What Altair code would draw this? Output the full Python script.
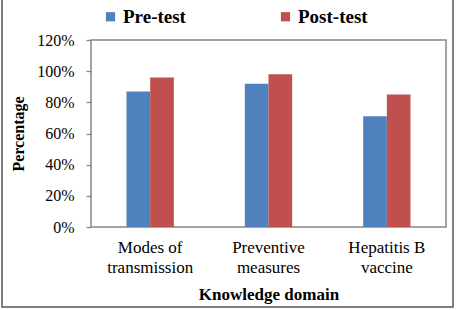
import altair as alt
import pandas as pd

categories = ["Modes of\ntransmission", "Preventive\nmeasures", "Hepatitis B\nvaccine"]
series = ["Pre-test", "Post-test"]
pre_test = [0.87, 0.92, 0.71]
post_test = [0.96, 0.98, 0.85]
colors = ["#4F81BD", "#C0504D"]
y_ticks = [0, 0.2, 0.4, 0.6, 0.8, 1.0, 1.2]

rows = []
for c, a, b in zip(categories, pre_test, post_test):
    rows.append({"domain": c, "test": "Pre-test", "value": a})
    rows.append({"domain": c, "test": "Post-test", "value": b})
df = pd.DataFrame(rows)

FONT = "Liberation Serif"

bars = alt.Chart(df).mark_bar().encode(
    x=alt.X("domain:N", sort=categories,
            scale=alt.Scale(paddingInner=0.6, paddingOuter=0.3),
            axis=alt.Axis(title="Knowledge domain", labelAngle=0, ticks=False, domain=False,
                          labelExpr="split(datum.label, '\\n')",
                          labelFontSize=17, labelLineHeight=20, labelPadding=12,
                          titleFontSize=17, titlePadding=11)),
    xOffset=alt.XOffset("test:N", sort=series, scale=alt.Scale(paddingInner=0, paddingOuter=0)),
    y=alt.Y("value:Q", scale=alt.Scale(domain=[0, 1.2], nice=False),
            axis=alt.Axis(title="Percentage", format=".0%", values=y_ticks, grid=False,
                          domain=False, tickSize=5, tickColor="#868686", tickWidth=1.3,
                          labelFontSize=16, labelPadding=12,
                          titleFontSize=16, titlePadding=10)),
    color=alt.Color("test:N", sort=series,
                    scale=alt.Scale(domain=series, range=colors),
                    legend=alt.Legend(title=None, orient="none", legendX=10, legendY=-33,
                                      direction="horizontal", columns=2, columnPadding=90,
                                      symbolType="square", symbolSize=85, symbolStrokeWidth=0,
                                      labelFont=FONT, labelFontSize=19, labelFontWeight="bold",
                                      labelColor="#000", labelOffset=3)),
)

frame = alt.Chart(pd.DataFrame({"a": [0]})).mark_rect(
    fill=None, stroke="#555555", strokeWidth=1.5
).encode(
    x=alt.value(-89), x2=alt.value(362), y=alt.value(-50), y2=alt.value(267)
)

chart = alt.layer(frame, bars).properties(
    width=355, height=187,
    background="white",
    autosize=alt.AutoSizeParams(type="none"),
    padding={"left": 91, "top": 40, "right": 11, "bottom": 83},
).configure_view(
    stroke="#868686", strokeWidth=1.5
).configure_axis(
    labelFont=FONT, labelColor="#000", titleFont=FONT, titleColor="#000",
    titleFontWeight="bold"
).configure_text(font=FONT)

chart.save("out.html", embed_options={"renderer": "svg", "actions": False})
